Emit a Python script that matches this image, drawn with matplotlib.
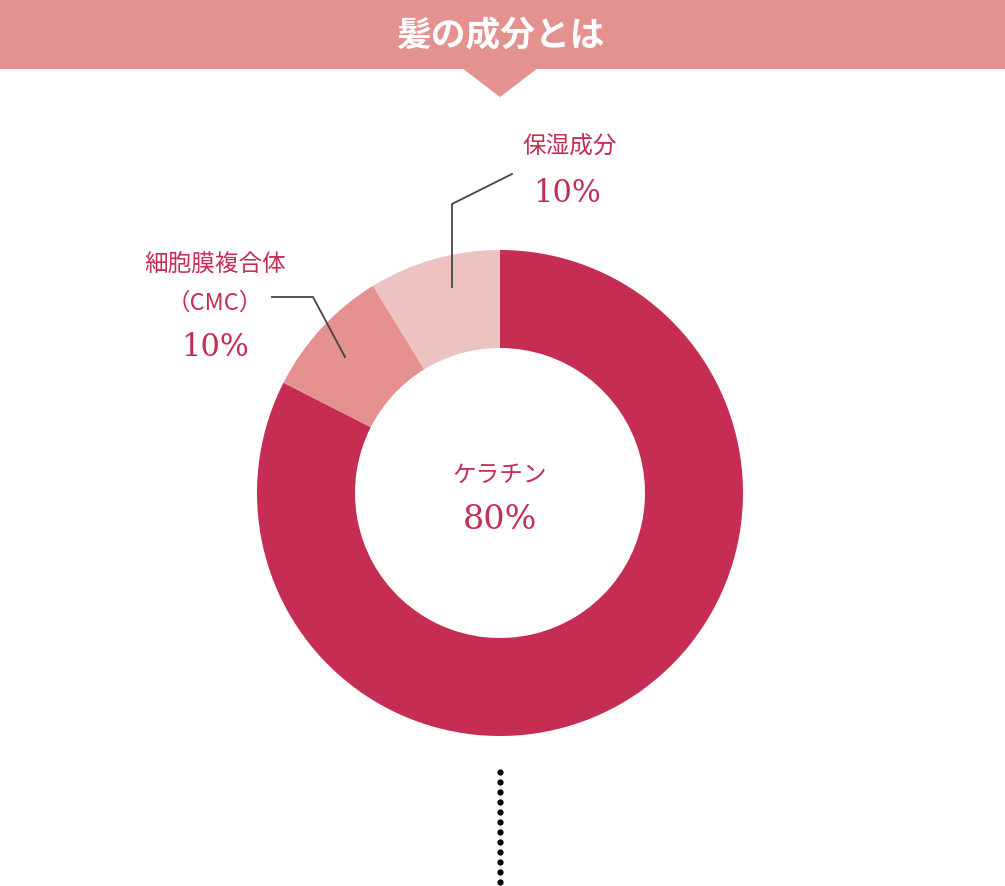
import matplotlib
matplotlib.use("Agg")
import matplotlib.pyplot as plt
from matplotlib.patches import Polygon, Rectangle

plt.rcParams["font.family"] = ["Noto Sans CJK JP", "DejaVu Sans"]

W, H = 1005, 887
labels = ["ケラチン", "細胞膜複合体（CMC）", "保湿成分"]
label_pct = ["80%", "10%", "10%"]
# drawn shares
shares = [82.5, 8.75, 8.75]
colors = ["#C62D52", "#E4918F", "#EDC3C2"]
RED = "#C62D52"

fig = plt.figure(figsize=(W / 100, H / 100), dpi=100)
ax = fig.add_axes([0, 0, 1, 1])
ax.set_xlim(0, W)
ax.set_ylim(0, H)
ax.set_aspect("equal")
ax.axis("off")

def Y(y):
    return H - y

# banner
ax.add_patch(Rectangle((0, Y(70)), W, 70, color="#E39290", lw=0))
ax.add_patch(Polygon([(462, Y(69)), (538, Y(69)), (500, Y(98))], color="#E39290", lw=0))
ax.text(500, Y(36), "髪の成分とは", color="white", fontsize=25, fontweight="bold",
        ha="center", va="center")

# donut
ax.pie(shares, colors=colors, startangle=90, counterclock=False,
       center=(500, Y(494)), radius=243, frame=True,
       wedgeprops=dict(width=98, edgecolor="none"))
ax.set_xlim(0, W)
ax.set_ylim(0, H)
ax.axis("off")

# leader lines
ax.plot([452, 452, 512], [Y(288), Y(205), Y(175)], color="#444444", lw=1.3)
ax.plot([345, 313, 272], [Y(358), Y(298), Y(298)], color="#444444", lw=1.3)

# labels
ax.text(570, Y(147), labels[2], color=RED, fontsize=17, ha="center", va="center")
ax.text(567, Y(193), label_pct[2], color=RED, fontsize=22, ha="center", va="center",
        family="DejaVu Serif")
ax.text(215, Y(265), "細胞膜複合体", color=RED, fontsize=17, ha="center", va="center")
ax.text(215, Y(303), "（CMC）", color=RED, fontsize=17, ha="center", va="center")
ax.text(215, Y(348), label_pct[1], color=RED, fontsize=22, ha="center", va="center",
        family="DejaVu Serif")
ax.text(500, Y(475), labels[0], color=RED, fontsize=17, ha="center", va="center")
ax.text(500, Y(520), label_pct[0], color=RED, fontsize=24, ha="center", va="center",
        family="DejaVu Serif")

# dotted line
dots_y = list(range(773, 884, 10))
ax.scatter([500] * len(dots_y), [Y(v) for v in dots_y], s=12, color="black")

fig.savefig("out.png", dpi=100)
